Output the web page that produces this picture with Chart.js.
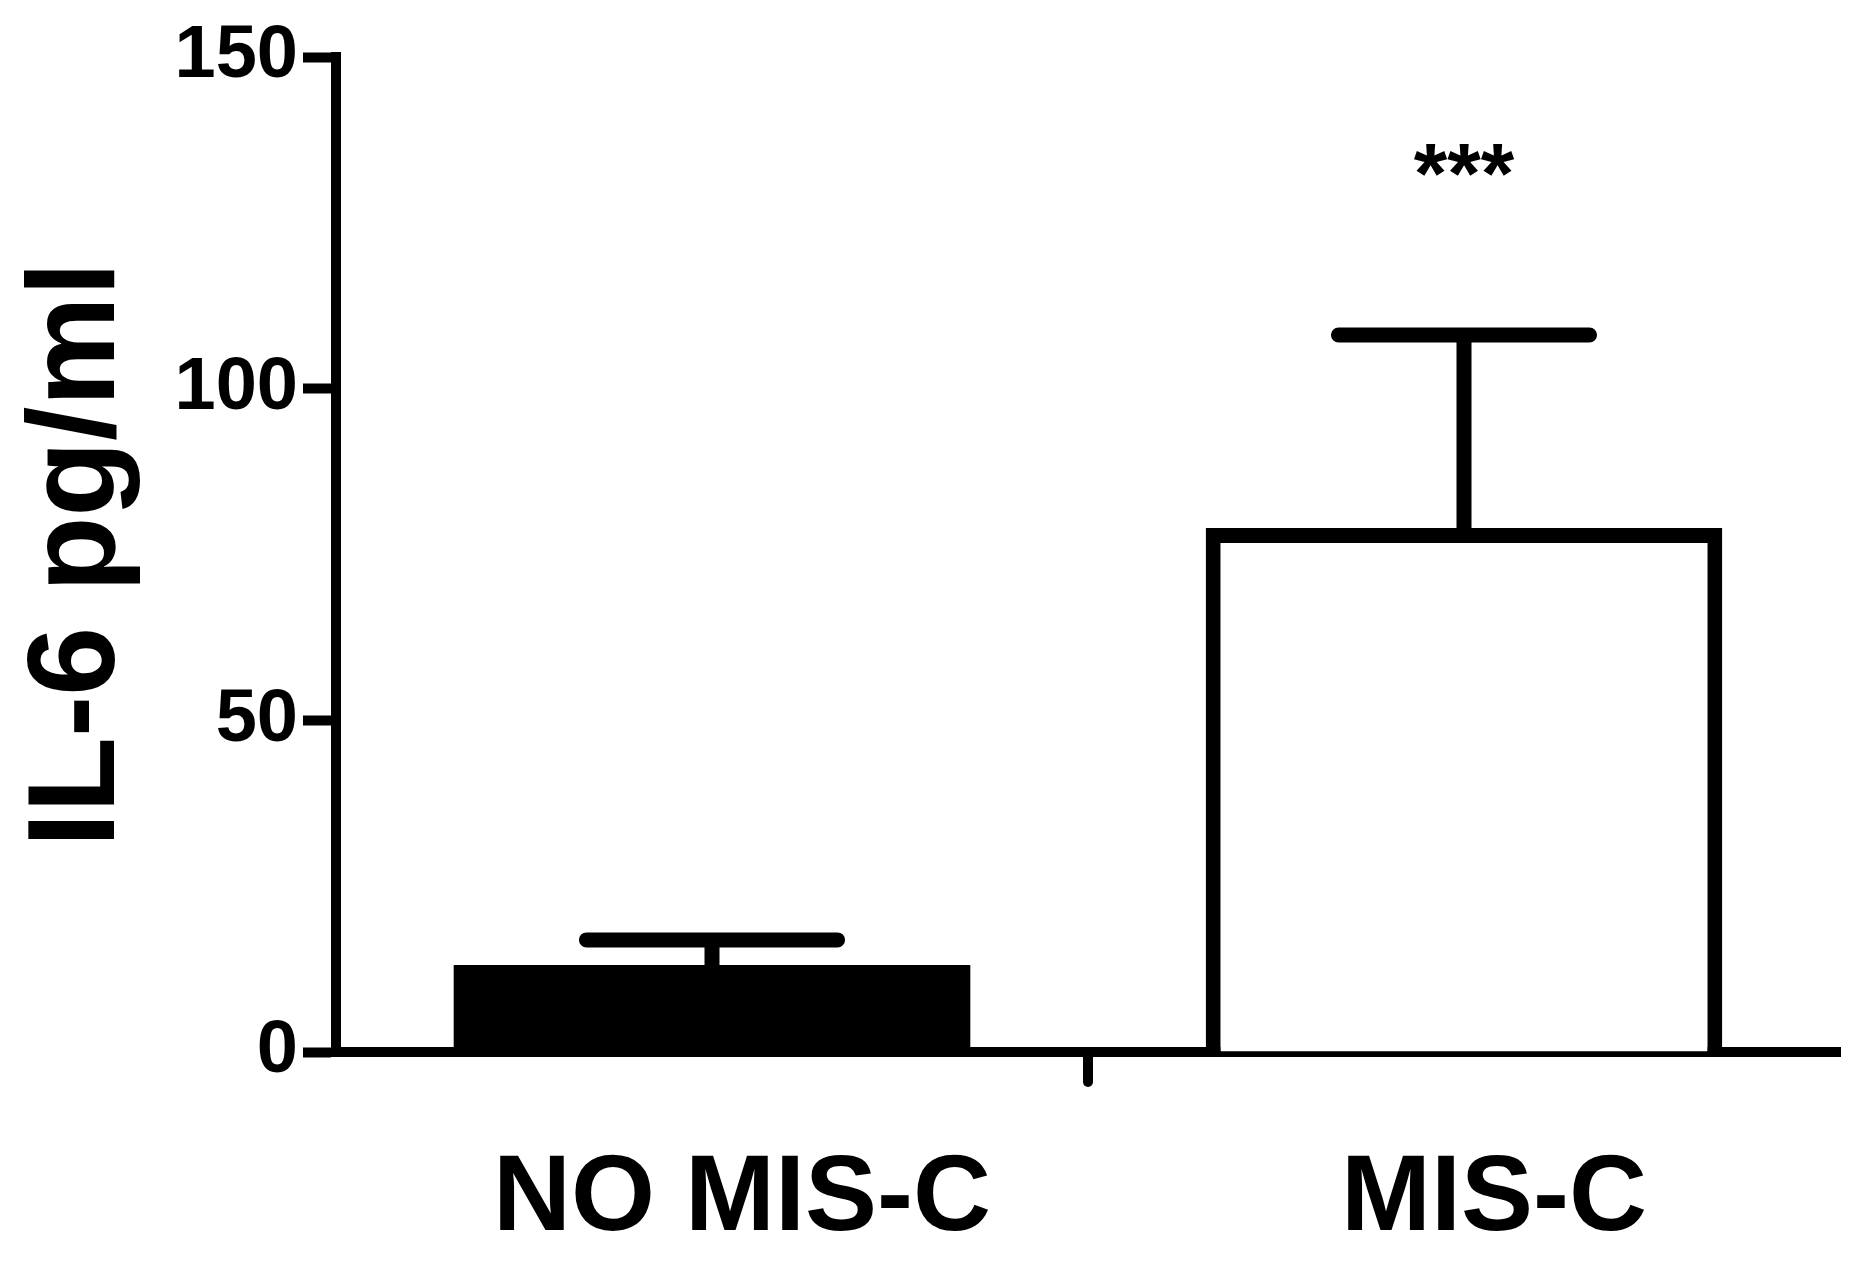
<!DOCTYPE html>
<html>
<head>
<meta charset="utf-8">
<style>
  html, body { margin: 0; padding: 0; background: #fff; }
  #wrap { width: 1875px; height: 1270px; }
</style>
<script src="https://cdn.jsdelivr.net/npm/chart.js@4.4.1/dist/chart.umd.min.js"></script>
</head>
<body>
<div id="wrap"><canvas id="il6" width="1875" height="1270"></canvas></div>
<script>
// values
const groups = ['NO MIS-C', 'MIS-C'];
const means = [13.1, 79.0];
const sem = [3.8, 29.1];
const yTicks = [0, 50, 100, 150];
const stars = ['', '***'];
const starLevel = 128;

const FONT = "'Liberation Sans', Arial, sans-serif";

// error bars, the centre tick on the x axis and the significance marks
const extras = {
    id: 'extras',
    afterDatasetsDraw: function (chart) {
        const ctx = chart.ctx;
        const xs = chart.scales.x;
        const ys = chart.scales.y;
        const meta = chart.getDatasetMeta(0);
        ctx.save();
        ctx.strokeStyle = '#000';
        ctx.lineCap = 'round';
        ctx.lineWidth = 15;
        meta.data.forEach(function (bar, i) {
            const top = ys.getPixelForValue(means[i] + sem[i]);
            const half = bar.width * 0.243;
            ctx.beginPath();
            ctx.moveTo(bar.x, bar.y);
            ctx.lineTo(bar.x, top);
            ctx.moveTo(bar.x - half, top);
            ctx.lineTo(bar.x + half, top);
            ctx.stroke();
        });

        // tick between the two groups
        const mid = (xs.getPixelForValue(0) + xs.getPixelForValue(1)) / 2;
        ctx.lineWidth = 10;
        ctx.beginPath();
        ctx.moveTo(mid, chart.chartArea.bottom);
        ctx.lineTo(mid, chart.chartArea.bottom + 30);
        ctx.stroke();

        ctx.fillStyle = '#000';
        ctx.font = 'bold 86px ' + FONT;
        ctx.textAlign = 'center';
        ctx.textBaseline = 'alphabetic';
        stars.forEach(function (s, i) {
            if (s) ctx.fillText(s, xs.getPixelForValue(i), ys.getPixelForValue(starLevel));
        });
        ctx.restore();
    }
};

new Chart(document.getElementById('il6'), {
    type: 'bar',
    data: {
        labels: groups,
        datasets: [{
            data: means,
            backgroundColor: ['#000000', '#ffffff'],
            borderColor: '#000000',
            borderWidth: [0, 15],
            borderSkipped: 'start',
            barPercentage: 0.687,
            categoryPercentage: 1
        }]
    },
    options: {
        responsive: false,
        animation: false,
        devicePixelRatio: 1,
        layout: { padding: { top: 57, right: 35, left: 0, bottom: 0 } },
        plugins: {
            legend: { display: false },
            tooltip: { enabled: false },
            title: { display: false }
        },
        scales: {
            x: {
                offset: true,
                grid: { display: false, drawTicks: false },
                border: { display: true, color: '#000', width: 10 },
                ticks: {
                    color: '#000',
                    padding: 83,
                    labelOffset: 30,
                    maxRotation: 0,
                    font: { family: FONT, size: 108, weight: 'bold' }
                },
                afterFit: function (scale) { scale.height = 218; }
            },
            y: {
                min: 0,
                max: 150,
                afterBuildTicks: function (scale) {
                    scale.ticks = yTicks.map(function (v) { return { value: v }; });
                },
                grid: {
                    display: true,
                    drawOnChartArea: false,
                    drawTicks: true,
                    tickLength: 33,
                    tickWidth: 10,
                    tickColor: '#000'
                },
                border: { display: true, color: '#000', width: 10 },
                ticks: {
                    color: '#000',
                    padding: 5,
                    font: { family: FONT, size: 74, weight: 'bold' }
                },
                title: {
                    display: true,
                    text: 'IL-6 pg/ml',
                    color: '#000',
                    padding: { top: 18, bottom: 0 },
                    font: { family: FONT, size: 124, weight: 'bold', lineHeight: 1 }
                },
                afterFit: function (scale) { scale.width = 336; }
            }
        }
    },
    plugins: [extras]
});
</script>
</body>
</html>
